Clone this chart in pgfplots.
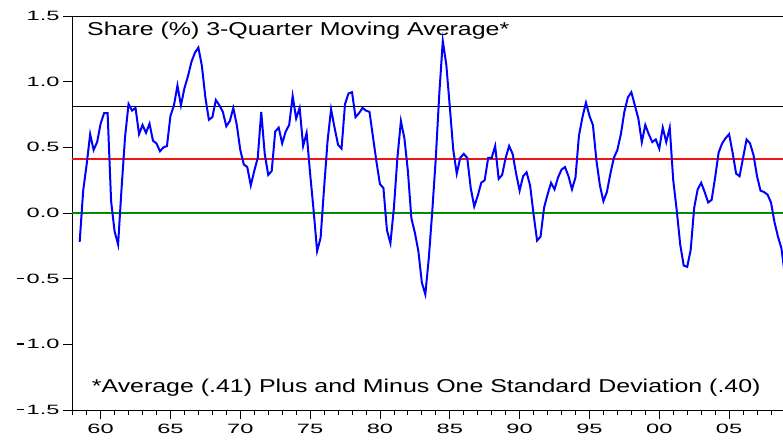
\documentclass[border=0pt]{standalone}
\usepackage{fontspec}
\setmainfont{Liberation Sans}
\newfontfamily\labfont[FakeStretch=1.34]{Liberation Sans}
\newfontfamily\tickfont[FakeStretch=1.75]{Liberation Sans}
\usepackage{pgfplots}
\pgfplotsset{compat=1.18}
\usepackage{pgfplotstable}
\newcommand\hy{\rule[4.2bp]{7.5bp}{1.3bp}\kern2.5bp}

\pgfplotstableread{
yr share
58.50 -0.22
58.75 0.17
59.00 0.37
59.25 0.60
59.50 0.48
59.75 0.54
60.00 0.68
60.25 0.76
60.50 0.76
60.75 0.09
61.00 -0.14
61.25 -0.24
61.50 0.19
61.75 0.58
62.00 0.83
62.25 0.78
62.50 0.80
62.75 0.60
63.00 0.67
63.25 0.61
63.50 0.68
63.75 0.55
64.00 0.53
64.25 0.47
64.50 0.50
64.75 0.51
65.00 0.74
65.25 0.82
65.50 0.97
65.75 0.82
66.00 0.95
66.25 1.04
66.50 1.15
66.75 1.22
67.00 1.26
67.25 1.12
67.50 0.88
67.75 0.71
68.00 0.73
68.25 0.86
68.50 0.82
68.75 0.77
69.00 0.66
69.25 0.70
69.50 0.80
69.75 0.67
70.00 0.48
70.25 0.37
70.50 0.35
70.75 0.21
71.00 0.32
71.25 0.42
71.50 0.77
71.75 0.45
72.00 0.29
72.25 0.32
72.50 0.62
72.75 0.65
73.00 0.53
73.25 0.62
73.50 0.67
73.75 0.89
74.00 0.72
74.25 0.80
74.50 0.51
74.75 0.61
75.00 0.30
75.25 0.02
75.50 -0.29
75.75 -0.19
76.00 0.19
76.25 0.55
76.50 0.79
76.75 0.65
77.00 0.52
77.25 0.49
77.50 0.83
77.75 0.91
78.00 0.92
78.25 0.73
78.50 0.76
78.75 0.80
79.00 0.78
79.25 0.77
79.50 0.58
79.75 0.39
80.00 0.22
80.25 0.19
80.50 -0.13
80.75 -0.23
81.00 0.04
81.25 0.42
81.50 0.70
81.75 0.57
82.00 0.32
82.25 -0.04
82.50 -0.15
82.75 -0.29
83.00 -0.53
83.25 -0.62
83.50 -0.34
83.75 0.02
84.00 0.42
84.25 0.91
84.50 1.31
84.75 1.13
85.00 0.81
85.25 0.48
85.50 0.30
85.75 0.42
86.00 0.45
86.25 0.42
86.50 0.19
86.75 0.05
87.00 0.13
87.25 0.23
87.50 0.25
87.75 0.42
88.00 0.42
88.25 0.51
88.50 0.26
88.75 0.29
89.00 0.42
89.25 0.51
89.50 0.45
89.75 0.30
90.00 0.17
90.25 0.28
90.50 0.31
90.75 0.21
91.00 -0.01
91.25 -0.21
91.50 -0.18
91.75 0.04
92.00 0.14
92.25 0.23
92.50 0.18
92.75 0.27
93.00 0.33
93.25 0.35
93.50 0.28
93.75 0.18
94.00 0.27
94.25 0.59
94.50 0.73
94.75 0.84
95.00 0.74
95.25 0.67
95.50 0.40
95.75 0.21
96.00 0.09
96.25 0.16
96.50 0.30
96.75 0.42
97.00 0.48
97.25 0.60
97.50 0.77
97.75 0.88
98.00 0.92
98.25 0.82
98.50 0.72
98.75 0.54
99.00 0.67
99.25 0.60
99.50 0.54
99.75 0.56
100.00 0.49
100.25 0.65
100.50 0.54
100.75 0.65
101.00 0.25
101.25 0.02
101.50 -0.24
101.75 -0.40
102.00 -0.41
102.25 -0.28
102.50 0.04
102.75 0.18
103.00 0.23
103.25 0.16
103.50 0.08
103.75 0.10
104.00 0.27
104.25 0.46
104.50 0.53
104.75 0.57
105.00 0.60
105.25 0.46
105.50 0.30
105.75 0.28
106.00 0.42
106.25 0.56
106.50 0.53
106.75 0.44
107.00 0.28
107.25 0.17
107.50 0.16
107.75 0.14
108.00 0.08
108.25 -0.07
108.50 -0.18
108.75 -0.27
109.00 -0.48
}\sharedata

\definecolor{refline}{RGB}{240,20,20}

\begin{document}
\begin{tikzpicture}
\begin{axis}[
  scale only axis, width=711bp, height=394bp,
  xmin=57.95, xmax=108.86, ymin=-1.5, ymax=1.5,
  axis x line*=box, axis y line*=left, axis line style={-, line width=0.9bp},
  xtick={60,65,...,105}, xticklabels={60,65,70,75,80,85,90,95,00,05},
  minor xtick={58,59,...,108},
  ytick={-1.5,-1,...,1.5},
  yticklabels={\hy1.5,\hy1.0,\hy0.5,0.0,0.5,1.0,1.5},
  xtick pos=lower, ytick pos=left, tick align=outside,
  major tick length=9bp, minor tick length=5bp,
  tick style={black, line width=0.8bp},
  tick label style={font=\tickfont\fontsize{13.5bp}{15bp}\selectfont},
  xticklabel style={yshift=-2bp},
  clip=true,
]
\addplot[draw=black, line width=1.1bp] coordinates {(50,0.81) (115,0.81)};
\addplot[draw=refline, line width=1.4bp] coordinates {(50,0.41) (115,0.41)};
\addplot[color={rgb,255:red,0;green,140;blue,0}, line width=1.3bp] coordinates {(50,0) (115,0)};
\addplot[color={rgb,255:red,0;green,0;blue,255}, line width=2bp] table[x=yr, y=share] {\sharedata};
\node[anchor=base west, font=\labfont\fontsize{18.6bp}{22bp}\selectfont, inner sep=0pt]
  at ([shift={(15bp,-19.7bp)}]rel axis cs:0,1) {Share (\%) 3-Quarter Moving Average*};
\node[anchor=base west, font=\labfont\fontsize{18.6bp}{22bp}\selectfont, inner sep=0pt]
  at ([shift={(19.7bp,17.3bp)}]rel axis cs:0,0) {*Average (.41) Plus and Minus One Standard Deviation (.40)};
\coordinate (ll) at (rel axis cs:0,0);
\coordinate (ur) at (rel axis cs:1,1);
\end{axis}
\pgfresetboundingbox
\path[use as bounding box] ([shift={(-72bp,-30bp)}]ll) rectangle ([shift={(0bp,16bp)}]ur);
\end{tikzpicture}
\end{document}
